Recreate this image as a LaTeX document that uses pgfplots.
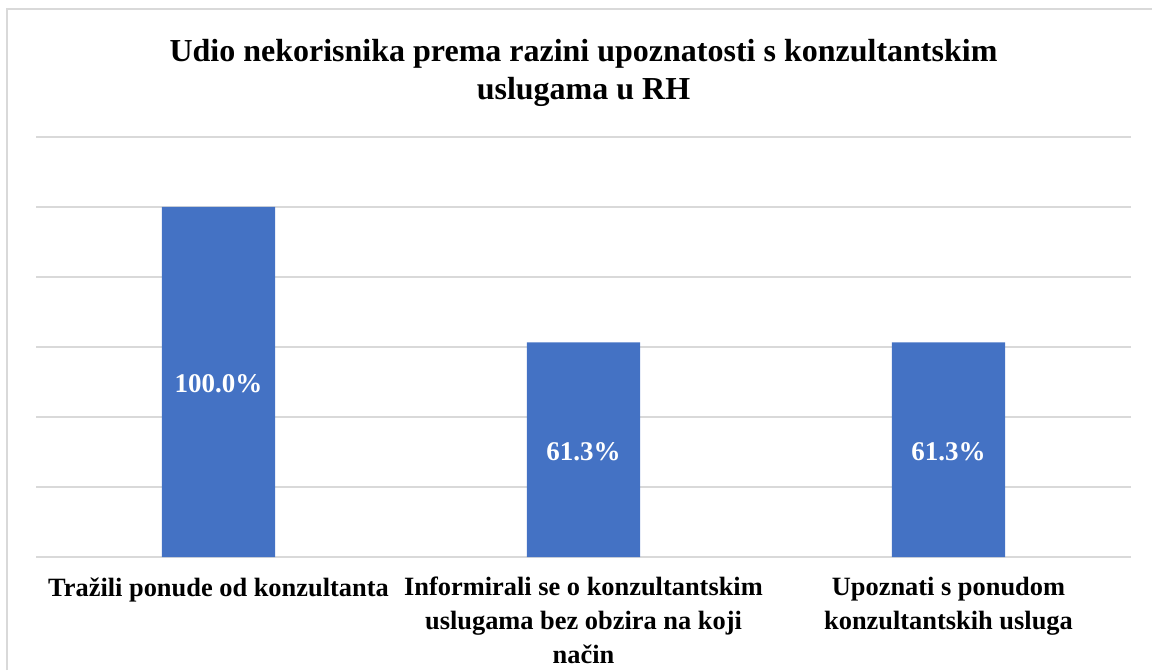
\documentclass[border=0pt]{standalone}
\usepackage{fontspec}
\setmainfont{Liberation Serif}
\usepackage{pgfplots}
\pgfplotsset{compat=1.18}
\definecolor{barBlue}{HTML}{4472C4}
\definecolor{gridGray}{HTML}{D9D9D9}
\begin{document}
\begin{tikzpicture}[x=0.5pt,y=0.5pt]
% image frame: 1152 x 670 px, 1px = 0.5pt
\path[use as bounding box] (0,0) rectangle (1152,670);
\draw[gridGray, line width=1pt] (7,0) -- (7,661) -- (1152,661);
\begin{axis}[
  at={(18pt,56.5pt)}, anchor=south west,
  scale only axis,
  width=547.5pt, height=210pt,
  xmin=-0.5, xmax=2.5,
  ymin=0, ymax=120,
  xtick=data,
  xticklabels={{Tražili ponude od konzultanta},
               {Informirali se o konzultantskim\\uslugama bez obzira na koji\\način},
               {Upoznati s ponudom\\konzultantskih usluga}},
  x tick label style={font=\bfseries\fontsize{13.2}{16.8}\selectfont,
                      align=center, inner sep=0pt, yshift=-10pt},
  ytick={0,20,...,120},
  yticklabels={},
  ymajorgrids,
  grid style={gridGray, line width=0.8pt},
  axis line style={draw=none},
  tick style={draw=none},
  major tick length=0pt,
  title={Udio nekorisnika prema razini upoznatosti s konzultantskim\\uslugama u RH},
  title style={font=\bfseries\fontsize{16}{19}\selectfont, align=center,
               at={(0.5,1)}, anchor=south, inner sep=0pt, yshift=9pt},
  ybar,
  bar width=0.31,
  visualization depends on={y \as \rawy},
  nodes near coords={\pgfmathprintnumber[fixed,fixed zerofill,precision=1,
                     assume math mode=true]{\pgfplotspointmeta}\%},
  nodes near coords style={font=\bfseries\fontsize{13.5}{16}\selectfont,
                           color=white, anchor=center, yshift=-1pt,
                           shift={(axis direction cs:0,-0.5*\rawy)}},
]
\addplot[fill=barBlue, draw=none] coordinates {
  (0, 100.0)
  (1, 61.3)
  (2, 61.3)
};
\end{axis}
\end{tikzpicture}
\end{document}
